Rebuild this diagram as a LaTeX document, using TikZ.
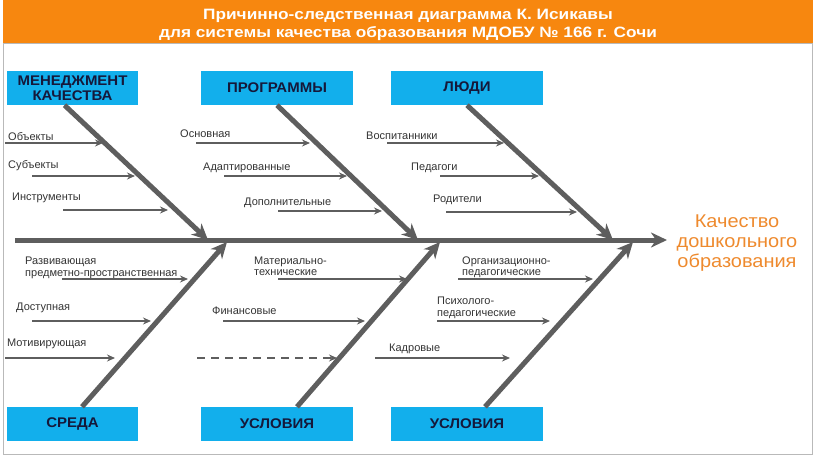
\documentclass[tikz,border=0pt]{standalone}
\usepackage{fontspec}
\setmainfont{Liberation Sans}
\newfontfamily\ttlfont[FakeStretch=1.15]{Liberation Sans}
\newfontfamily\boxfont[FakeStretch=1.07]{Liberation Sans}
\newfontfamily\outfont[FakeStretch=1.08]{Liberation Sans}
\usetikzlibrary{arrows.meta}
\definecolor{ttl}{HTML}{F7870F}
\definecolor{cy}{HTML}{12AFEC}
\definecolor{bn}{HTML}{5E5E5E}
\definecolor{outc}{HTML}{EE8A2E}
\definecolor{boxtxt}{HTML}{15183A}
\begin{document}
\begin{tikzpicture}[x=1pt,y=-1pt,
  catbox/.style={fill=cy, minimum height=34pt, inner sep=0pt, align=center,
    font=\boxfont\fontsize{14}{15}\selectfont\bfseries, text=boxtxt},
  bone/.style={draw=bn, line width=5pt, -{Stealth[length=16pt,width=15pt,inset=5pt]}},
  sub/.style={draw=bn, line width=1.6pt, -{Stealth[length=8pt,width=7pt]}},
  lbl/.style={font=\fontsize{11}{11.5}\selectfont, anchor=west, inner sep=0pt, text=black!80, align=left},
]
\useasboundingbox (0,0) rectangle (816,459);
% title band and frame
\fill[ttl] (3,0) rectangle (813,43);
\draw[gray!55, line width=0.8pt] (3,43) rectangle (812,454);
\node[font=\ttlfont\fontsize{15}{18}\selectfont\bfseries, text=white, align=center] (title) at (408,24.5)
  {Причинно-следственная диаграмма К. Исикавы\\для системы качества образования МДОБУ № 166 г. Сочи};

% category boxes
\node[catbox, minimum width=131pt] (mk) at (72.5,88) {МЕНЕДЖМЕНТ\\КАЧЕСТВА};
\node[catbox, minimum width=152pt] (pr) at (277,88) {ПРОГРАММЫ};
\node[catbox, minimum width=152pt] (ld) at (467,88) {ЛЮДИ};
\node[catbox, minimum width=131pt] (sr) at (72.5,424) {СРЕДА};
\node[catbox, minimum width=152pt] (us1) at (277,424) {УСЛОВИЯ};
\node[catbox, minimum width=152pt] (us2) at (467,424) {УСЛОВИЯ};

% outcome
\node[font=\outfont\fontsize{18.5}{20}\selectfont, text=outc, align=center] (out) at (737,243)
  {Качество\\дошкольного\\образования};

% spine
\coordinate (sp0) at (15,240);
\coordinate (sp1) at (667,240);
\draw[bone] (sp0) -- (sp1);

% bone ends on the spine
\coordinate (tm) at (208,240);
\coordinate (tp) at (418,240);
\coordinate (tl) at (613,240);
\coordinate (bs) at (227,242);
\coordinate (bu1) at (440,242);
\coordinate (bu2) at (633,242);

\draw[bone] ([xshift=-8pt]mk.south) -- (tm);
\draw[bone] (pr.south) -- (tp);
\draw[bone] (ld.south) -- (tl);
\draw[bone] ([xshift=9.5pt]sr.north) -- (bs);
\draw[bone] ([xshift=20pt]us1.north) -- (bu1);
\draw[bone] ([xshift=18pt]us2.north) -- (bu2);

% sub-causes, top
\node[lbl] (l1) at (8,136.5) {Объекты};
\coordinate (a1) at (5,143); \coordinate (b1) at (103,143);
\draw[sub] (a1) -- (b1);
\node[lbl] (l2) at (8,165.5) {Субъекты};
\coordinate (a2) at (32,176); \coordinate (b2) at (135,176);
\draw[sub] (a2) -- (b2);
\node[lbl] (l3) at (12,197.5) {Инструменты};
\coordinate (a3) at (63,210); \coordinate (b3) at (168,210);
\draw[sub] (a3) -- (b3);

\node[lbl] (l4) at (180,133.5) {Основная};
\coordinate (a4) at (196,143); \coordinate (b4) at (310,143);
\draw[sub] (a4) -- (b4);
\node[lbl] (l5) at (203,167.5) {Адаптированные};
\coordinate (a5) at (224,176); \coordinate (b5) at (347,176);
\draw[sub] (a5) -- (b5);
\node[lbl] (l6) at (244,202.5) {Дополнительные};
\coordinate (a6) at (278,211); \coordinate (b6) at (382,211);
\draw[sub] (a6) -- (b6);

\node[lbl] (l7) at (366,135.5) {Воспитанники};
\coordinate (a7) at (387,143); \coordinate (b7) at (504,143);
\draw[sub] (a7) -- (b7);
\node[lbl] (l8) at (411,167.5) {Педагоги};
\coordinate (a8) at (440,176); \coordinate (b8) at (539,176);
\draw[sub] (a8) -- (b8);
\node[lbl] (l9) at (433,199.5) {Родители};
\coordinate (a9) at (446,212); \coordinate (b9) at (577,212);
\draw[sub] (a9) -- (b9);

% sub-causes, bottom
\node[lbl] (l10) at (25,268) {Развивающая\\предметно-пространственная};
\coordinate (a10) at (62,279); \coordinate (b10) at (188,279);
\draw[sub] (a10) -- (b10);
\node[lbl] (l11) at (16,307.5) {Доступная};
\coordinate (a11) at (32,321); \coordinate (b11) at (151,321);
\draw[sub] (a11) -- (b11);
\node[lbl] (l12) at (7,343.5) {Мотивирующая};
\coordinate (a12) at (5,358); \coordinate (b12) at (115,358);
\draw[sub] (a12) -- (b12);

\node[lbl] (l13) at (254,266.5) {Материально-\\технические};
\coordinate (a13) at (278,279); \coordinate (b13) at (407,279);
\draw[sub] (a13) -- (b13);
\node[lbl] (l14) at (212,310.5) {Финансовые};
\coordinate (a14) at (223,321); \coordinate (b14) at (365,321);
\draw[sub] (a14) -- (b14);
\coordinate (a15) at (197,358); \coordinate (b15) at (337,358);
\draw[sub, dashed, dash pattern=on 8pt off 6pt] (a15) -- (b15);

\node[lbl] (l16) at (462,267) {Организационно-\\педагогические};
\coordinate (a16) at (458,279); \coordinate (b16) at (593,279);
\draw[sub] (a16) -- (b16);
\node[lbl] (l17) at (437,308) {Психолого-\\педагогические};
\coordinate (a17) at (437,321); \coordinate (b17) at (550,321);
\draw[sub] (a17) -- (b17);
\node[lbl] (l18) at (389,348.5) {Кадровые};
\coordinate (a18) at (375,358); \coordinate (b18) at (510,358);
\draw[sub] (a18) -- (b18);
\end{tikzpicture}
\end{document}
